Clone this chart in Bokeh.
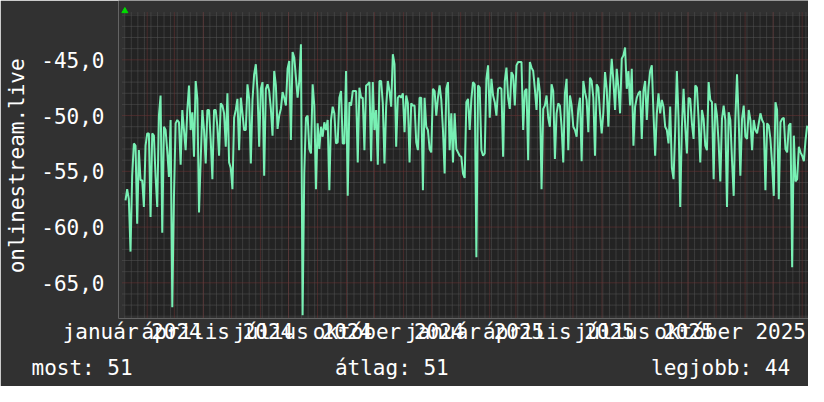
import numpy as np
import pandas as pd
from bokeh.plotting import figure
from bokeh.models import FixedTicker, Range1d, Title
from bokeh.embed import file_html
from bokeh.resources import INLINE

# ---------------- data ----------------
EPOCH = pd.Timestamp("2024-01-01")
series_start = "2024-01-08 19:26"
series_end = "2026-01-06 08:24"

values_part1 = [
    -57.6, -56.6, -57.5, -62.2, -55.4, -52.5, -52.7, -59.7, -53.1, -55.8,
    -55.8, -58.2, -52.7, -51.6, -51.6, -59.1, -51.6, -51.8, -55.5, -58.2,
    -50.0, -48.2, -60.5, -51.0, -51.3, -53.2, -55.5, -50.4, -67.2, -57.3,
    -50.7, -50.4, -50.6, -54.4, -49.5, -51.3, -53.1, -49.5, -47.3, -51.3,
    -49.7, -53.7, -46.9, -48.5, -58.7, -54.0, -49.5, -51.3, -54.3, -49.5,
    -49.5, -52.2, -55.7, -49.5, -49.5, -51.0, -53.6, -48.9, -49.1, -49.8,
    -52.8, -48.0, -54.2, -54.7, -56.6, -50.2, -49.5, -48.5, -53.1, -48.4,
    -49.8, -51.3, -51.3, -47.2, -48.5, -54.3, -48.6, -46.3, -45.4, -47.8,
    -52.8, -47.6, -47.0, -55.4, -47.6, -47.2, -47.8, -49.4, -51.8, -46.0,
    -47.3, -51.2, -50.0, -49.4, -47.9, -48.4, -49.1, -45.8, -45.1, -52.2,
]
values_part2 = [
    -44.3, -44.8, -46.6, -48.4, -46.9, -43.6, -67.9, -55.1, -50.2, -50.0,
    -53.0, -53.4, -47.2, -49.1, -56.6, -50.7, -53.0, -51.0, -51.9, -50.6,
    -51.3, -50.4, -56.7, -50.4, -49.2, -49.8, -52.5, -52.4, -48.4, -47.8,
    -52.5, -52.5, -46.0, -57.2, -48.8, -49.1, -47.8, -47.8, -47.8, -54.2,
    -47.5, -48.4, -48.4, -53.1, -47.3, -47.2, -47.0, -54.1, -47.0, -51.3,
    -49.5, -54.4, -46.9, -46.9, -48.9, -54.3, -49.2, -46.9, -47.8, -49.2,
    -44.5, -45.4, -52.8, -48.4, -48.2, -48.4, -48.0, -51.5, -48.2, -48.9,
    -54.2, -48.9, -49.1, -49.1, -52.4, -53.1, -48.4, -48.4, -56.7, -48.4,
    -51.0, -51.3, -53.0, -53.3, -47.6, -47.8, -50.0, -48.4, -47.3, -48.6,
    -51.3, -55.2, -47.6, -47.0, -53.1, -49.8, -54.2, -49.8, -53.0, -53.3,
    -53.6, -53.7, -55.2,
]
values_part3 = [
    -55.6, -48.8, -48.5, -51.3, -48.5, -47.0, -47.2, -62.7, -47.3, -47.5,
    -53.1, -53.6, -53.4, -46.7, -45.5, -50.2, -46.7, -48.2, -48.8, -50.0,
    -47.6, -47.5, -47.6, -53.7, -46.9, -45.7, -48.4, -49.4, -46.1, -46.4,
    -49.1, -45.5, -45.2, -45.2, -45.2, -51.3, -47.8, -47.6, -54.0, -45.2,
    -45.7, -46.0, -47.6, -49.5, -46.6, -47.9, -56.6, -49.4, -49.1, -48.2,
    -50.2, -51.0, -47.2, -47.8, -53.9, -49.8, -48.9, -49.1, -51.0, -54.2,
    -48.0, -46.7, -53.1, -48.2, -49.1, -51.0, -51.3, -51.9, -49.4, -48.4,
    -54.1, -46.9, -47.9, -48.6, -51.5, -46.6, -46.9, -48.4, -53.6, -47.2,
    -47.5, -49.8, -51.6, -49.7, -46.1, -47.6, -51.0, -47.3, -44.9, -46.9,
    -49.5, -45.8, -47.5, -49.8, -44.9, -44.6, -43.9, -47.6, -46.0, -49.1,
    -45.8, -52.7,
]
values_part4 = [
    -49.2, -48.4, -48.0, -47.8, -52.1, -47.8, -46.9, -50.4, -47.5, -46.0,
    -45.5, -49.8, -53.6, -49.8, -48.0, -49.8, -48.6, -49.2, -51.0, -51.3,
    -52.5, -49.2, -54.7, -55.7, -51.3, -46.0, -50.3, -58.2, -51.0, -47.6,
    -51.0, -53.4, -48.4, -48.5, -50.7, -52.1, -47.3, -47.5, -50.3, -54.2,
    -49.5, -50.3, -52.7, -53.1, -47.0, -48.6, -48.8, -55.7, -48.9, -50.0,
    -52.5, -55.9, -50.3, -49.1, -50.4, -58.2, -49.7, -50.4, -54.0, -57.2,
    -50.3, -46.3, -50.4, -55.4, -50.3, -49.1, -51.9, -52.1, -49.5, -50.4,
    -53.1, -50.4, -51.3, -51.6, -50.7, -49.8, -50.4, -50.7, -56.7, -50.7,
    -50.9, -52.1, -54.4, -57.2, -48.8, -49.5, -57.5, -50.6, -50.3, -50.2,
    -53.0, -53.3, -50.9, -50.7, -63.6, -51.8, -55.9, -55.7, -52.8, -53.3,
    -53.6, -54.1, -52.2, -50.9,
]

tick_dates = ["2024-01-16", "2024-04-16", "2024-07-16", "2024-10-16",
              "2025-01-16", "2025-04-16", "2025-07-16", "2025-10-16"]
tick_labels = ["január 2024", "április 2024", "július 2024", "október 2024",
               "január 2025", "április 2025", "július 2025", "október 2025"]
y_ticks = [-65, -60, -55, -50, -45]
y_tick_labels = ["-65,0", "-60,0", "-55,0", "-50,0", "-45,0"]
axis_title = "onlinestream.live"
legend_texts = ["most: 51", "átlag: 51", "legjobb: 44"]

# ---------------- helpers ----------------
def to_days(ts):
    return list((pd.to_datetime(ts) - EPOCH) / pd.Timedelta(days=1))

values = values_part1 + values_part2 + values_part3 + values_part4
times = pd.date_range(series_start, series_end, periods=len(values))
xs = to_days(times)
tick_days = [int(round(d)) for d in to_days(tick_dates)]

FONT = "DejaVu Sans Mono"
BG = "#313131"
CANVAS = "#232323"
LINE = "#78f0b4"
TXT = "#ffffff"
NB = "\u00a0"

# plot-area (data) and frame limits
X0, X1 = 6.74, 738.8          # plot area in days
Y0, Y1 = -67.93, -40.94       # plot area in values
FX0, FX1 = 0.33, 737.74       # frame
FY0, FY1 = -68.20, -39.68

p = figure(width=808, height=386, output_backend="svg",
           toolbar_location=None,
           x_range=Range1d(FX0, FX1), y_range=Range1d(FY0, FY1),
           min_border_left=118, min_border_right=0, min_border_top=0,
           min_border_bottom=68,
           background_fill_color=BG, border_fill_color=BG,
           outline_line_color=None)

p.xgrid.grid_line_color = None
p.ygrid.grid_line_color = None

# plot canvas
p.quad(left=[X0], right=[X1], bottom=[Y0], top=[Y1], fill_color=CANVAS,
       line_color=None)

# grid
dx = 2.0 / 0.9357
dy = 2.0 / 11.15
month_starts = to_days(pd.date_range("2024-02-01", "2026-01-01", freq="MS"))
weeks = [d for d in to_days(pd.date_range("2024-01-08", "2026-01-05", freq="7D"))
         if X0 < d < X1]
minor_h = [v for v in range(-67, -40) if v % 5 != 0]
major_h = [v for v in range(-65, -40, 5)]

p.segment(x0=weeks, x1=weeks, y0=[Y0 - dy] * len(weeks), y1=[Y1 + dy] * len(weeks),
          line_color="#555555", line_dash="1 1", line_width=1)
p.segment(x0=[X0 - dx] * len(minor_h), x1=[X1] * len(minor_h), y0=minor_h, y1=minor_h,
          line_color="#555555", line_dash="1 1", line_width=1)
p.segment(x0=month_starts, x1=month_starts, y0=[Y0 - dy] * len(month_starts),
          y1=[Y1 + dy] * len(month_starts),
          line_color="#703434", line_dash="1 1", line_width=1)
p.segment(x0=[X0 - dx] * len(major_h), x1=[X1] * len(major_h), y0=major_h, y1=major_h,
          line_color="#703434", line_dash="1 1", line_width=1)

# series
p.line(xs, values, line_color=LINE, line_width=2)

# axis arrow (top of the value axis)
p.scatter([X0 + 0.4], [Y1 + 3.6 / 11.15], marker="triangle", size=6,
          fill_color="#00dd00", line_color="#00dd00")

# axes
xa = p.xaxis[0]
xa.ticker = FixedTicker(ticks=tick_days)
xa.major_label_overrides = dict(zip(tick_days, tick_labels))
xa.major_tick_line_color = None
xa.minor_tick_line_color = None
xa.axis_line_color = None
xa.major_label_text_font = FONT
xa.major_label_text_font_size = "21px"
xa.major_label_text_color = TXT
xa.major_label_text_line_height = 0.8
xa.major_label_standoff = -5

ya = p.yaxis[0]
ya.ticker = FixedTicker(ticks=y_ticks)
ya.major_label_overrides = dict(zip(y_ticks, y_tick_labels))
ya.major_tick_line_color = None
ya.minor_tick_line_color = None
ya.axis_line_color = None
ya.major_label_text_font = FONT
ya.major_label_text_font_size = "21px"
ya.major_label_text_color = TXT
ya.major_label_standoff = 8
ya.axis_label = axis_title + NB
ya.axis_label_text_font = FONT
ya.axis_label_text_font_size = "21px"
ya.axis_label_text_font_style = "normal"
ya.axis_label_text_color = TXT
ya.axis_label_text_line_height = 0.8
ya.axis_label_standoff = 9

# legend line below the axis, laid out in the monospace font
legend_line = legend_texts[0] + NB * 16 + legend_texts[1] + NB * 16 + legend_texts[2]
p.add_layout(Title(text=legend_line, align="left", offset=-87, standoff=14,
                   text_font=FONT, text_font_size="21px", text_font_style="normal",
                   text_color=TXT, text_line_height=0.8), "below")

open("out.html", "w").write(file_html(p, INLINE))
